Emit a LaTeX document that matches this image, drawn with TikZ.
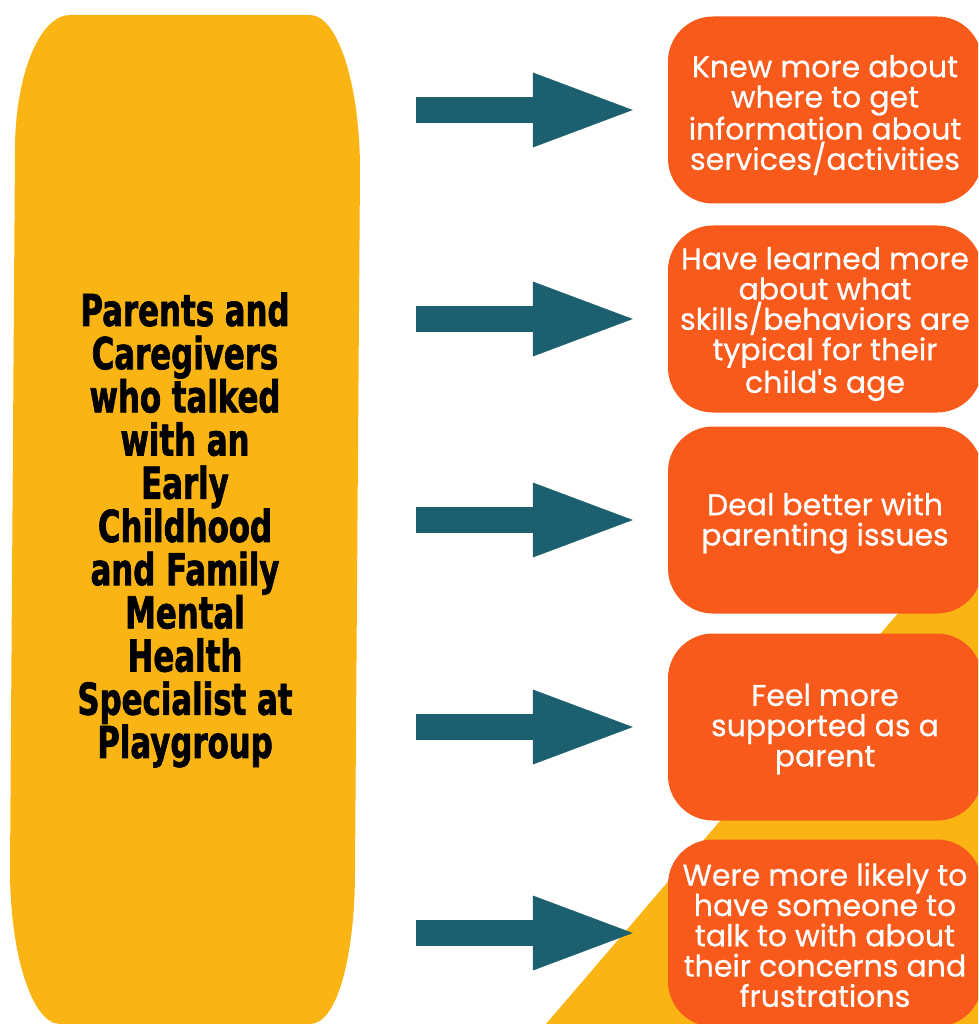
\documentclass[tikz,border=0pt]{standalone}
\usepackage{fontspec}
\usetikzlibrary{arrows.meta}
\newfontfamily\boxfont[FakeBold=0.6]{Poppins}
\newfontfamily\leftfont[FakeStretch=0.7,FakeBold=1.5]{DejaVu Sans}
\definecolor{ylw}{HTML}{FAB515}
\definecolor{org}{HTML}{F85A1C}
\definecolor{tl}{HTML}{1C5F6F}
\begin{document}
\begin{tikzpicture}[x=1pt,y=-1pt,
  outbox/.style={fill=org, rounded corners=45pt, minimum width=314pt, minimum height=187pt,
    inner sep=0pt},
  boxtext/.style={inner sep=0pt, text=white, align=center,
    font=\boxfont\fontsize{30}{30.3}\selectfont},
  blockarrow/.style={tl, line width=26pt, shorten >=35pt,
    -{Triangle[length=100pt, width=75pt, line width=0pt]}}]
\useasboundingbox (0,0) rectangle (978,1024);
\clip (0,0) rectangle (978,1024);
\fill[white] (0,0) rectangle (978,1024);
% yellow triangle in the lower right
\fill[ylw] (540,1031) -- (984,513) -- (984,1031) -- cycle;
% left yellow shape
\fill[ylw] (70,15) -- (310,15) .. controls (337.6,15) and (360,84.4) .. (360,170)
  -- (355,870) .. controls (355,955) and (337.6,1024) .. (310,1024)
  -- (60,1024) .. controls (32.4,1024) and (10,955) .. (10,870)
  -- (15,150) .. controls (15,75.4) and (39.6,15) .. (70,15) -- cycle;
\node[font=\leftfont\bfseries\fontsize{44}{43.2}\selectfont, align=center, inner sep=0pt] (lefttext) at (185,530)
  {Parents and\\Caregivers\\who talked\\with an\\Early\\Childhood\\and Family\\Mental\\Health\\Specialist at\\Playgroup};
% right boxes
\node[outbox] (b1) at (825,110) {};
\node[outbox] (b2) at (825,319) {};
\node[outbox] (b3) at (825,520) {};
\node[outbox] (b4) at (825,727) {};
\node[outbox] (b5) at (825,933) {};
\node[boxtext] (t1) at ([yshift=-5pt]b1.center) {Knew more about\\where to get\\information about\\services/activities};
\node[boxtext] (t2) at ([yshift=-5pt]b2.center) {Have learned more\\about what\\skills/behaviors are\\typical for their\\child's age};
\node[boxtext] (t3) at ([yshift=-3pt]b3.center) {Deal better with\\parenting issues};
\node[boxtext] (t4) at ([yshift=-2pt]b4.center) {Feel more\\supported as a\\parent};
\node[boxtext] (t5) at ([yshift=-2pt]b5.center) {Were more likely to\\have someone to\\talk to with about\\their concerns and\\frustrations};
% arrows
\coordinate (s1) at (416,110);
\coordinate (s2) at (416,319);
\coordinate (s3) at (416,520);
\coordinate (s4) at (416,727);
\coordinate (s5) at (416,933);
\draw[blockarrow] (s1) -- (b1.west);
\draw[blockarrow] (s2) -- (b2.west);
\draw[blockarrow] (s3) -- (b3.west);
\draw[blockarrow] (s4) -- (b4.west);
\draw[blockarrow] (s5) -- (b5.west);
\end{tikzpicture}
\end{document}
